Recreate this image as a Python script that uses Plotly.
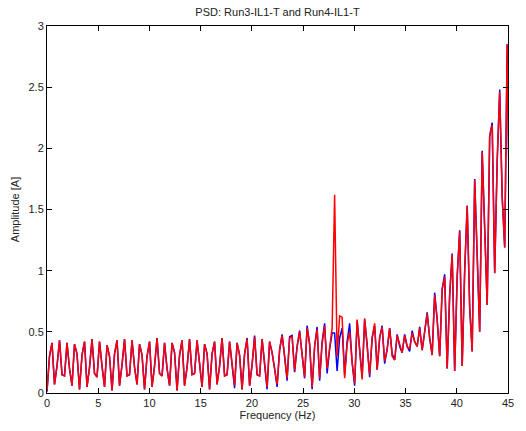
import numpy as np
import plotly.graph_objects as go

# Frequency bins (Hz): uniform FFT bin spacing
df = 1000.0 / 4096.0
n_bins = 186

# Run3-IL1-T (blue)
run3 = [
    0.01, 0.30, 0.41, 0.07, 0.22, 0.43, 0.15, 0.14, 0.41, 0.20, 0.06, 0.40, 0.32,
    0.03, 0.31, 0.42, 0.05, 0.21, 0.44, 0.16, 0.13, 0.42, 0.22, 0.05, 0.39, 0.30,
    0.02, 0.32, 0.43, 0.06, 0.23, 0.44, 0.14, 0.15, 0.43, 0.21, 0.07, 0.40, 0.31,
    0.03, 0.30, 0.42, 0.05, 0.22, 0.45, 0.16, 0.14, 0.41, 0.20, 0.06, 0.41, 0.33,
    0.02, 0.31, 0.43, 0.06, 0.21, 0.44, 0.15, 0.16, 0.43, 0.22, 0.05, 0.40, 0.32,
    0.03, 0.32, 0.42, 0.07, 0.22, 0.45, 0.14, 0.15, 0.42, 0.21, 0.04, 0.41, 0.31,
    0.03, 0.32, 0.45, 0.06, 0.23, 0.47, 0.15, 0.14, 0.44, 0.22, 0.03, 0.42, 0.33,
    0.20, 0.05, 0.35, 0.48, 0.30, 0.10, 0.46, 0.47, 0.17, 0.38, 0.51, 0.30, 0.12,
    0.55, 0.40, 0.03, 0.38, 0.54, 0.10, 0.42, 0.57, 0.16, 0.36, 0.49, 0.49, 0.18,
    0.45, 0.53,
    0.15, 0.42, 0.57, 0.25, 0.06, 0.59, 0.35, 0.13, 0.60, 0.40, 0.13, 0.45, 0.55,
    0.19, 0.45, 0.55, 0.24, 0.36, 0.53, 0.32, 0.27, 0.48, 0.38, 0.33, 0.48, 0.38,
    0.34, 0.51, 0.42, 0.38, 0.54, 0.35, 0.50, 0.66, 0.45, 0.31,
    0.82, 0.60, 0.30, 0.85, 0.97, 0.20, 0.80, 1.14, 0.18, 0.95, 1.33, 0.22, 1.00,
    1.53, 0.70, 0.34, 1.75, 1.10, 0.50, 1.98, 1.30, 0.72, 2.10, 2.21, 0.98, 1.90,
    2.48, 1.60, 1.19, 2.85, 1.30,
]

# Run4-IL1-T (red)
run4 = [
    0.02, 0.30, 0.41, 0.07, 0.22, 0.43, 0.15, 0.14, 0.41, 0.20, 0.06, 0.40, 0.32,
    0.03, 0.31, 0.42, 0.05, 0.21, 0.44, 0.16, 0.13, 0.42, 0.22, 0.05, 0.39, 0.30,
    0.02, 0.32, 0.43, 0.06, 0.23, 0.44, 0.14, 0.15, 0.43, 0.21, 0.07, 0.40, 0.31,
    0.03, 0.30, 0.42, 0.05, 0.22, 0.45, 0.16, 0.14, 0.41, 0.20, 0.06, 0.41, 0.33,
    0.02, 0.31, 0.43, 0.06, 0.21, 0.44, 0.15, 0.16, 0.43, 0.22, 0.05, 0.40, 0.32,
    0.03, 0.32, 0.42, 0.07, 0.22, 0.45, 0.14, 0.15, 0.42, 0.21, 0.06, 0.41, 0.31,
    0.03, 0.32, 0.44, 0.06, 0.23, 0.46, 0.15, 0.14, 0.44, 0.22, 0.05, 0.42, 0.33,
    0.20, 0.07, 0.35, 0.47, 0.30, 0.12, 0.45, 0.46, 0.18, 0.38, 0.50, 0.30, 0.13,
    0.53, 0.40, 0.05, 0.38, 0.52, 0.12, 0.40, 0.55, 0.20, 0.35, 0.53, 1.62, 0.30,
    0.63, 0.62,
    0.12, 0.40, 0.50, 0.25, 0.08, 0.60, 0.35, 0.11, 0.61, 0.40, 0.15, 0.45, 0.57,
    0.19, 0.45, 0.54, 0.26, 0.35, 0.53, 0.30, 0.27, 0.47, 0.40, 0.33, 0.47, 0.38,
    0.36, 0.49, 0.42, 0.38, 0.53, 0.35, 0.50, 0.65, 0.45, 0.31,
    0.80, 0.60, 0.30, 0.85, 0.95, 0.20, 0.80, 1.13, 0.18, 0.95, 1.32, 0.22, 1.00,
    1.53, 0.70, 0.34, 1.74, 1.10, 0.50, 1.97, 1.30, 0.72, 2.10, 2.19, 0.98, 1.90,
    2.46, 1.60, 1.19, 2.85, 1.30,
]

freq = np.arange(n_bins) * df

x_ticks = [0, 5, 10, 15, 20, 25, 30, 35, 40, 45]
y_ticks = [0, 0.5, 1, 1.5, 2, 2.5, 3]
y_tick_text = ["0", "0.5", "1", "1.5", "2", "2.5", "3"]

FONT = "Liberation Sans, Arial, sans-serif"

fig = go.Figure()
fig.add_trace(go.Scatter(x=freq, y=run3, mode="lines", name="Run3-IL1-T",
                         line=dict(color="#0000ff", width=1.5)))
fig.add_trace(go.Scatter(x=freq, y=run4, mode="lines", name="Run4-IL1-T",
                         line=dict(color="#ff0000", width=1.5)))

axis_style = dict(
    showline=True, linecolor="black", linewidth=1, mirror="ticks",
    ticks="inside", ticklen=5, tickcolor="black", tickwidth=1,
    showgrid=False, zeroline=False,
    tickfont=dict(family=FONT, size=11, color="#222"),
)

fig.update_layout(
    width=526, height=431,
    margin=dict(l=47, r=13, t=26, b=36),
    paper_bgcolor="white", plot_bgcolor="white",
    showlegend=False,
    title=dict(text="PSD: Run3-IL1-T and Run4-IL1-T", x=0.5, xref="paper",
               y=1 - 12 / 431, yref="container", yanchor="middle",
               font=dict(family=FONT, size=11, color="#222")),
    xaxis=dict(range=[0, 45], tickvals=x_ticks,
               title=dict(text="Frequency (Hz)", standoff=2,
                          font=dict(family=FONT, size=11, color="#222")),
               **axis_style),
    yaxis=dict(range=[0, 3], tickvals=y_ticks, ticktext=y_tick_text,
               title=dict(text="Amplitude [A]", standoff=6,
                          font=dict(family=FONT, size=11, color="#222")),
               **axis_style),
)

fig.write_html("out.html")
